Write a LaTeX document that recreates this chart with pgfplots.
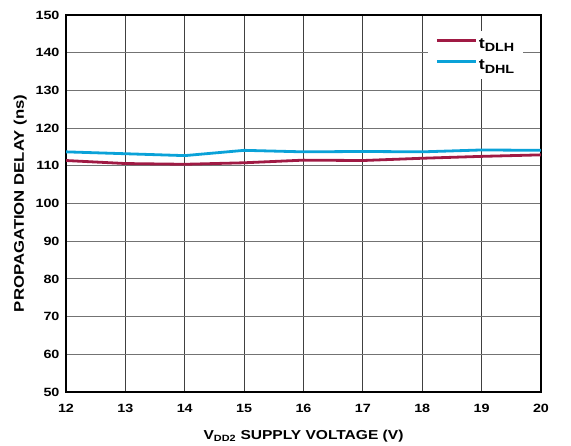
\documentclass[border=0pt]{standalone}
\usepackage{fontspec}
\setmainfont{Liberation Sans}[FakeStretch=1.2]
\usepackage{pgfplots}
\pgfplotsset{compat=1.18}
\definecolor{cRed}{HTML}{A01A44}
\definecolor{cBlue}{HTML}{0AA2D8}
\newcommand{\lsub}[1]{\raisebox{-0.45ex}{\fontsize{12}{12}\selectfont #1}}
\begin{document}
\begin{tikzpicture}[x=1bp,y=1bp]
\path[use as bounding box] (-66bp,-54bp) rectangle (505bp,392bp);
\begin{axis}[
  scale only axis, width=475bp, height=377bp,
  at={(0,0)}, anchor=south west,
  xmin=12, xmax=20, ymin=50, ymax=150,
  xtick={12,...,20}, ytick={50,60,...,150},
  major tick length=0pt,
  xmajorgrids, ymajorgrids,
  x grid style={draw=black!75, line width=0.9bp},
  y grid style={draw=black!55, line width=0.9bp},
  axis line style={line width=1.6bp, black},
  /pgf/number format/assume math mode=true,
  tick label style={font=\fontsize{12}{14}\selectfont\bfseries},
  xticklabel style={yshift=-9bp},
  yticklabel style={xshift=-3bp},
  xlabel={V\textsubscript{DD2} SUPPLY VOLTAGE (V)},
  ylabel={PROPAGATION DELAY (ns)},
  xlabel style={font=\fontsize{13}{15}\selectfont\bfseries, yshift=-10bp},
  ylabel style={font=\fontsize{14}{16}\selectfont\bfseries, yshift=2bp},
  legend style={at={(0.962,0.958)}, anchor=north east, draw=none, fill=white,
    font=\fontsize{15}{16}\selectfont\bfseries, inner xsep=7bp, inner ysep=6bp,
    row sep=7bp, nodes={inner sep=1.5bp}},
  legend cell align=left,
  legend image code/.code={\draw[#1, line width=3bp] (0bp,3.5bp) -- (39bp,3.5bp);},
]
\addplot[cRed, line width=2.8bp] coordinates {
(12,111.4) (13,110.6) (14,110.4) (15,110.8) (16,111.5) (17,111.4) (18,112.0) (19,112.5) (20,112.9)};
\addlegendentry{t\lsub{DLH}}
\addplot[cBlue, line width=2.8bp] coordinates {
(12,113.7) (13,113.2) (14,112.7) (15,114.1) (16,113.7) (17,113.8) (18,113.7) (19,114.2) (20,114.1)};
\addlegendentry{t\lsub{DHL}}
\end{axis}
\end{tikzpicture}
\end{document}
